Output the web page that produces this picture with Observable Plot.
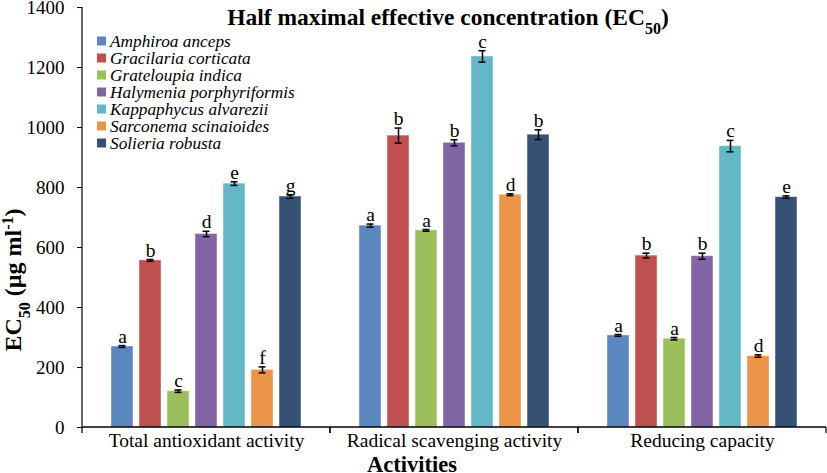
<!DOCTYPE html>
<html>
<head>
<meta charset="utf-8">
<script src="https://cdn.jsdelivr.net/npm/d3@7"></script>
<script src="https://cdn.jsdelivr.net/npm/@observablehq/plot@0.6"></script>
<style>
  html, body { margin: 0; padding: 0; background: #fff; }
  #chart { width: 827px; height: 473px; }
</style>
</head>
<body>
<div id="chart"></div>
<script>
const activities = ["Total antioxidant activity", "Radical scavenging activity", "Reducing capacity"];
const species = ["Amphiroa anceps", "Gracilaria corticata", "Grateloupia indica", "Halymenia porphyriformis", "Kappaphycus alvarezii", "Sarconema scinaioides", "Solieria robusta"];
const colors = ["#5a87c0", "#c0504f", "#9bbf5a", "#8064a4", "#64b8c6", "#ec9448", "#355275"];

const totalAntioxidant = [270, 557, 121, 645, 813, 192, 770];
const totalAntioxidantErr = [3, 3, 4, 9, 6, 10, 6];
const totalAntioxidantLetters = ["a", "b", "c", "d", "e", "f", "g"];

const radicalScavenging = [673, 973, 657, 949, 1237, 776, 976];
const radicalScavengingErr = [5, 25, 3, 10, 19, 3, 16];
const radicalScavengingLetters = ["a", "b", "a", "b", "c", "d", "b"];

const reducingCapacity = [307, 573, 296, 571, 938, 238, 768];
const reducingCapacityErr = [3, 8, 4, 10, 19, 4, 4];
const reducingCapacityLetters = ["a", "b", "a", "b", "c", "d", "e"];

const yTicks = [0, 200, 400, 600, 800, 1000, 1200, 1400];

const seriesByActivity = [
  [totalAntioxidant, totalAntioxidantErr, totalAntioxidantLetters],
  [radicalScavenging, radicalScavengingErr, radicalScavengingLetters],
  [reducingCapacity, reducingCapacityErr, reducingCapacityLetters]
];

const data = [];
activities.forEach((a, ai) => {
  const [vals, errs, lets] = seriesByActivity[ai];
  species.forEach((s, si) => {
    data.push({activity: a, species: s, value: vals[si], err: errs[si], letter: lets[si]});
  });
});

const axisRows = activities.map((a, i) => ({activity: a, first: i === 0}));

const serif = "'Liberation Serif', 'Times New Roman', Times, 'DejaVu Serif', serif";

const chart = Plot.plot({
  width: 827,
  height: 473,
  marginLeft: 81,
  marginRight: 1,
  marginTop: 7,
  marginBottom: 46,
  style: {fontFamily: serif, fontSize: "17px", color: "#000", background: "#fff"},
  fx: {domain: activities, padding: 0, label: null},
  x: {domain: species, paddingInner: 0.22, paddingOuter: 0.9, axis: null},
  y: {domain: [0, 1400], label: null},
  color: {domain: species, range: colors},
  marks: [
    Plot.axisY({ticks: yTicks, tickFormat: d => String(d), tickSize: 5, tickPadding: 13, fontSize: 19, fontFamily: serif, label: null}),
    Plot.axisFx({anchor: "bottom", tickSize: 0, tickPadding: 6, fontSize: 19.5, fontFamily: serif, label: null}),
    Plot.barY(data, {fx: "activity", x: "species", y: "value", fill: "species", stroke: "#fff", strokeOpacity: 0.45, strokeWidth: 1}),
    Plot.ruleX(data, {fx: "activity", x: "species", y1: d => d.value - d.err, y2: d => d.value + d.err, stroke: "#000", strokeWidth: 1.5}),
    Plot.tickY(data, {fx: "activity", x: "species", y: d => d.value + d.err, stroke: "#000", strokeWidth: 1.5, insetLeft: 7.5, insetRight: 7.5}),
    Plot.tickY(data, {fx: "activity", x: "species", y: d => d.value - d.err, stroke: "#000", strokeWidth: 1.5, insetLeft: 7.5, insetRight: 7.5}),
    Plot.text(data, {fx: "activity", x: "species", y: d => d.value + d.err, text: "letter", lineAnchor: "bottom", dy: -3, fontSize: 19.5, fontFamily: serif, fill: "#000"}),
    Plot.ruleY(axisRows, {
      fx: "activity",
      y: () => 0,
      render: (index, scales, values, dims) => {
        const g = d3.create("svg:g");
        const y0 = scales.y(0);
        const yTop = scales.y(1400);
        const L = dims.marginLeft, R = dims.width - dims.marginRight;
        g.append("line").attr("x1", L).attr("x2", R).attr("y1", y0).attr("y2", y0)
          .attr("stroke", "#000").attr("stroke-width", 1.5);
        g.append("line").attr("x1", R).attr("x2", R).attr("y1", y0).attr("y2", y0 + 6)
          .attr("stroke", "#000").attr("stroke-width", 1.2);
        g.append("line").attr("x1", L).attr("x2", L).attr("y1", y0).attr("y2", y0 + 6)
          .attr("stroke", "#000").attr("stroke-width", 1.2);
        for (const i of index) {
          if (axisRows[i].first) {
            g.append("line").attr("x1", L).attr("x2", L).attr("y1", yTop).attr("y2", y0)
              .attr("stroke", "#000").attr("stroke-width", 1.2);
          }
        }
        return g.node();
      }
    })
  ]
});

document.getElementById("chart").appendChild(chart);

// Title, legend and axis titles added as real SVG text
const svg = d3.select(chart);
const colorScale = chart.scale("color");

const title = svg.append("text")
  .attr("x", 448).attr("y", 25)
  .attr("text-anchor", "middle")
  .style("font-family", serif).style("font-weight", "bold").style("font-size", "23.5px")
  .attr("fill", "#000");
title.append("tspan").text("Half maximal effective concentration (EC");
title.append("tspan").attr("baseline-shift", "sub").style("font-size", "16px").text("50");
title.append("tspan").text(")");

const ylab = svg.append("text")
  .attr("transform", "translate(21,280) rotate(-90)")
  .attr("text-anchor", "middle")
  .style("font-family", serif).style("font-weight", "bold").style("font-size", "24px")
  .attr("fill", "#000");
ylab.append("tspan").text("EC");
ylab.append("tspan").attr("baseline-shift", "sub").style("font-size", "16px").text("50");
ylab.append("tspan").text(" (µg ml");
ylab.append("tspan").attr("baseline-shift", "super").style("font-size", "16px").text("-1");
ylab.append("tspan").text(")");

svg.append("text")
  .attr("x", 412).attr("y", 471.5)
  .attr("text-anchor", "middle")
  .style("font-family", serif).style("font-weight", "bold").style("font-size", "22.5px")
  .attr("fill", "#000")
  .text("Activities");

const legend = svg.append("g").attr("text-anchor", "start");
species.forEach((s, i) => {
  const cy = 41 + i * 17;
  legend.append("rect").attr("x", 97).attr("y", cy - 4.5).attr("width", 9).attr("height", 9)
    .attr("fill", colorScale.apply(s));
  legend.append("text").attr("x", 110).attr("y", cy + 5.5)
    .attr("text-anchor", "start")
    .style("font-family", serif).style("font-style", "italic").style("font-size", "17.3px")
    .attr("fill", "#000").text(s);
});
</script>
</body>
</html>
